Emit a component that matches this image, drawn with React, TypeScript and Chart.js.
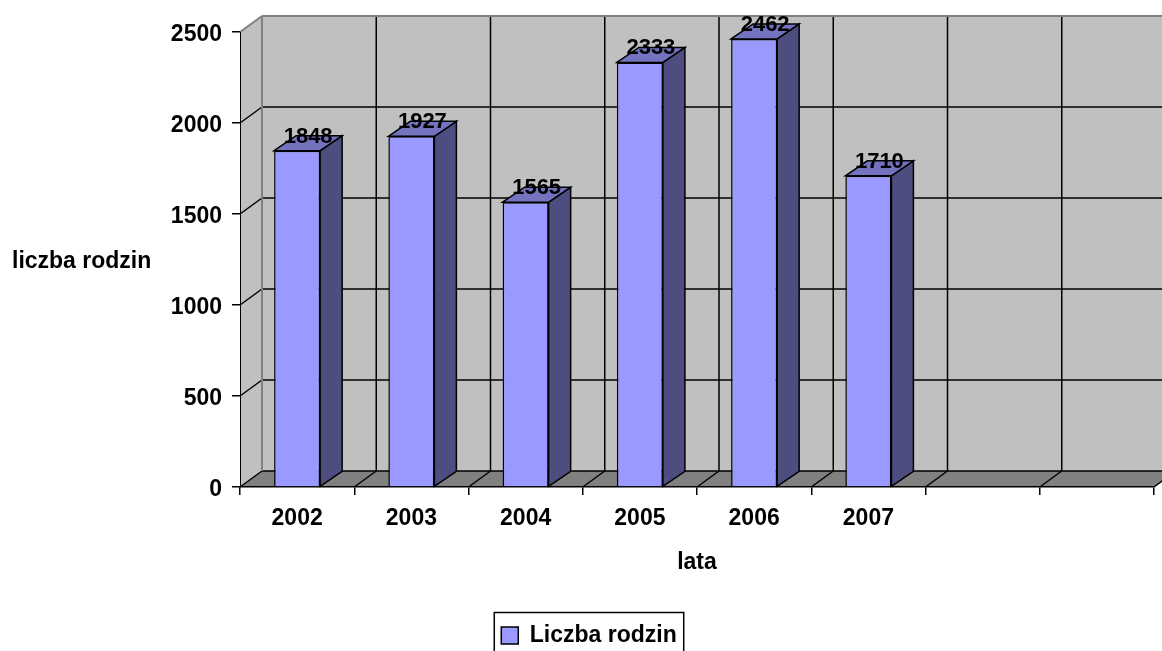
import React, { useEffect, useRef } from 'react';
import { Chart, registerables } from 'chart.js';

Chart.register(...registerables);

const categories = ['2002', '2003', '2004', '2005', '2006', '2007', '', ''];
const familyCounts: (number | null)[] = [1848, 1927, 1565, 2333, 2462, 1710, null, null];
const yTickValues = [0, 500, 1000, 1500, 2000, 2500];
const seriesLabel = 'Liczba rodzin';
const xTitle = 'lata';
const yTitle = 'liczba rodzin';

const FONT = "'Liberation Sans', Arial, sans-serif";
const DX = 22;
const DY = 16;
const BAR_DY = 15;
const LEGEND_SHIFT = 12;

function poly(ctx: CanvasRenderingContext2D, pts: number[][], fill: string | null, stroke: string | null, lw = 1.5) {
  ctx.beginPath();
  ctx.moveTo(pts[0][0], pts[0][1]);
  for (let i = 1; i < pts.length; i++) ctx.lineTo(pts[i][0], pts[i][1]);
  ctx.closePath();
  if (fill) {
    ctx.fillStyle = fill;
    ctx.fill();
  }
  if (stroke) {
    ctx.strokeStyle = stroke;
    ctx.lineWidth = lw;
    ctx.stroke();
  }
}

function line(ctx: CanvasRenderingContext2D, x1: number, y1: number, x2: number, y2: number, color: string, lw: number) {
  ctx.beginPath();
  ctx.moveTo(x1, y1);
  ctx.lineTo(x2, y2);
  ctx.strokeStyle = color;
  ctx.lineWidth = lw;
  ctx.stroke();
}

const wallsPlugin = {
  id: 'walls3d',
  afterLayout(chart: any) {
    if (chart.legend) {
      chart.legend.left += LEGEND_SHIFT;
      chart.legend.right += LEGEND_SHIFT;
    }
  },
  beforeDraw(chart: any) {
    const { ctx, chartArea: a, scales } = chart;
    const ys = scales.y;
    const xs = scales.x;
    const top = ys.getPixelForValue(yTickValues[yTickValues.length - 1]);
    const bottom = ys.getPixelForValue(0);
    ctx.save();
    // back wall
    poly(ctx, [[a.left + DX, top - DY], [a.right + DX, top - DY], [a.right + DX, bottom - DY], [a.left + DX, bottom - DY]], '#c0c0c0', null);
    // left wall
    poly(ctx, [[a.left, top], [a.left + DX, top - DY], [a.left + DX, bottom - DY], [a.left, bottom]], '#c0c0c0', null);
    // floor
    poly(ctx, [[a.left, bottom], [a.left + DX, bottom - DY], [a.right + DX, bottom - DY], [a.right, bottom]], '#808080', null);

    // horizontal grid lines on back wall + left wall diagonals
    for (let i = 0; i < yTickValues.length - 1; i++) {
      const yp = ys.getPixelForValue(yTickValues[i]);
      line(ctx, a.left + DX, yp - DY, a.right + DX, yp - DY, '#000', 1.5);
      line(ctx, a.left, yp, a.left + DX, yp - DY, '#000', 1.5);
    }
    // category boundaries
    const n = categories.length;
    const step = xs.getPixelForValue(1) - xs.getPixelForValue(0);
    for (let k = 1; k <= n; k++) {
      const bx = xs.getPixelForValue(k) - step / 2;
      if (k < n) line(ctx, bx + DX, top - DY, bx + DX, bottom - DY, '#000', 1.5);
      line(ctx, bx, bottom, bx + DX, bottom - DY, '#000', 1.5);
    }
    // grey edges of walls
    line(ctx, a.left + DX, top - DY, a.right + DX, top - DY, '#808080', 2);
    line(ctx, a.left, top, a.left + DX, top - DY, '#808080', 2);
    line(ctx, a.left + DX, top - DY, a.left + DX, bottom - DY, '#808080', 2);
    ctx.restore();
  },
  afterDatasetsDraw(chart: any) {
    const { ctx } = chart;
    const meta = chart.getDatasetMeta(0);
    ctx.save();
    meta.data.forEach((el: any, i: number) => {
      const v = familyCounts[i];
      if (v == null) return;
      const { x, y, base, width } = el.getProps(['x', 'y', 'base', 'width'], true);
      const l = x - width / 2;
      const r = x + width / 2;
      poly(ctx, [[r, y], [r + DX, y - BAR_DY], [r + DX, base - BAR_DY], [r, base]], '#4d4d80', '#000', 1.5);
      poly(ctx, [[l, y], [l + DX, y - BAR_DY], [r + DX, y - BAR_DY], [r, y]], '#7373bf', '#000', 1.5);
    });
    ctx.fillStyle = '#000';
    ctx.font = `bold 22px ${FONT}`;
    ctx.textAlign = 'center';
    ctx.textBaseline = 'alphabetic';
    meta.data.forEach((el: any, i: number) => {
      const v = familyCounts[i];
      if (v == null) return;
      const { x, y } = el.getProps(['x', 'y'], true);
      ctx.fillText(String(v), x + DX / 2, y - 8);
    });
    ctx.restore();
  },
  afterDraw(chart: any) {
    const { ctx } = chart;
    ctx.save();
    // y axis title (horizontal)
    ctx.fillStyle = '#000';
    ctx.font = `bold 23px ${FONT}`;
    ctx.textAlign = 'left';
    ctx.textBaseline = 'alphabetic';
    ctx.fillText(yTitle, 12, 268);
    // legend border
    const lg = chart.legend;
    if (lg && lg.legendHitBoxes && lg.legendHitBoxes[0]) {
      const hb = lg.legendHitBoxes[0];
      const bx = (lg.left + lg.right - hb.width) / 2;
      const cy = hb.top + hb.height / 2;
      ctx.strokeStyle = '#000';
      ctx.lineWidth = 1.5;
      ctx.strokeRect(bx - 7, cy - 23, hb.width + 14, 60);
    }
    ctx.restore();
  },
};

export default function App() {
  const canvasRef = useRef<HTMLCanvasElement | null>(null);

  useEffect(() => {
    if (!canvasRef.current) return;
    const font = { family: FONT, size: 23, weight: 'bold' as const };
    const chart = new Chart(canvasRef.current, {
      type: 'bar',
      data: {
        labels: categories,
        datasets: [
          {
            label: seriesLabel,
            data: familyCounts,
            backgroundColor: '#9999ff',
            borderColor: '#000',
            borderWidth: 1.5,
            categoryPercentage: 1,
            barPercentage: 0.403,
          },
        ],
      },
      options: {
        responsive: false,
        animation: false,
        devicePixelRatio: 1,
        layout: { padding: { top: 32, right: 8, bottom: -6, left: 0 } },
        plugins: {
          legend: {
            position: 'bottom',
            labels: {
              boxWidth: 17,
              boxHeight: 17,
              padding: 10,
              color: '#000',
              font,
            },
          },
          tooltip: { enabled: false },
        },
        scales: {
          x: {
            grid: { offset: true, drawOnChartArea: false, tickLength: 8, color: '#000', lineWidth: 1.5 },
            border: { color: '#000', width: 1.5 },
            ticks: { padding: 10, color: '#000', font, maxRotation: 0, autoSkip: false },
            title: { display: true, text: xTitle, color: '#000', font, padding: { top: 0, bottom: 38 } },
            afterFit: (s: any) => {
              s.height = 127;
            },
          },
          y: {
            min: 0,
            max: 2500,
            ticks: {
              stepSize: 500,
              padding: 10,
              labelOffset: 3,
              color: '#000',
              font,
              callback: (v: any) => String(v),
            },
            grid: { drawOnChartArea: false, tickLength: 8, color: '#000', lineWidth: 1.5 },
            border: { color: '#000', width: 1 },
            afterFit: (s: any) => {
              s.width = 240;
            },
          },
        },
      },
      plugins: [wallsPlugin],
    } as any);
    return () => chart.destroy();
  }, []);

  return (
    <div style={{ position: 'absolute', left: 0, top: 0, width: 1162, height: 651, background: '#fff' }}>
      <canvas ref={canvasRef} width={1162} height={651} style={{ display: 'block' }} />
    </div>
  );
}
